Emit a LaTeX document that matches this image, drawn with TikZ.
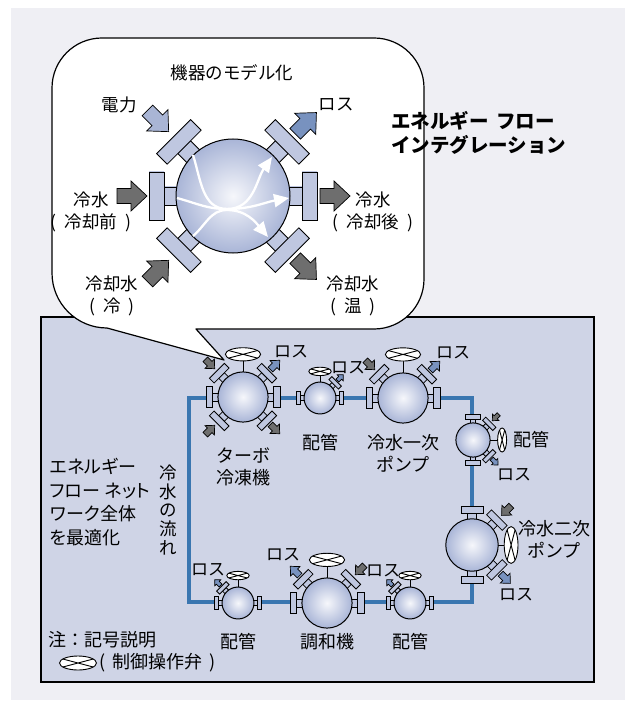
\documentclass[tikz,border=0pt]{standalone}
\usepackage{fontspec}
\setmainfont{Noto Sans CJK JP}
\newfontfamily\jpprop[RawFeature=+palt]{Noto Sans CJK JP}
\usetikzlibrary{arrows.meta}

\definecolor{bgc}{HTML}{EFEFF4}
\definecolor{boxc}{HTML}{CFD4E6}
\definecolor{pipec}{HTML}{3A76B0}
\definecolor{darkarr}{HTML}{6E6E6E}
\definecolor{elecarr}{HTML}{A9B5D5}
\definecolor{lossarr}{HTML}{7892BF}
\definecolor{flA}{HTML}{BFC7E0}
\definecolor{flB}{HTML}{F2F3F9}
\definecolor{sphIn}{HTML}{F6F7FB}
\definecolor{sphOut}{HTML}{A9B5D7}

% a flange (stub + plate) on the sphere, at angle #1, in model units
\newcommand{\flangeat}[1]{%
  \begin{scope}[rotate=#1]
    \draw[flangepart] (50,-9) rectangle (69,9);
    \draw[flangepart] (69,-24) rectangle (84,24);
  \end{scope}}
% block arrow leaving the sphere: angle, start distance, colour
\newcommand{\arrout}[3]{%
  \begin{scope}[rotate=#1]
    \draw[blockarr, fill=#3] (#2,-7.5) -- ({#2+14},-7.5) -- ({#2+14},-15) -- ({#2+30},0)
      -- ({#2+14},15) -- ({#2+14},7.5) -- (#2,7.5) -- cycle;
  \end{scope}}
% block arrow entering the sphere: angle, tip distance, colour
\newcommand{\arrin}[3]{%
  \begin{scope}[rotate=#1]
    \draw[blockarr, fill=#3] (#2,0) -- ({#2+16},-15) -- ({#2+16},-7.5) -- ({#2+30},-7.5)
      -- ({#2+30},7.5) -- ({#2+16},7.5) -- ({#2+16},15) -- cycle;
  \end{scope}}
% control valve: stem, then body with its cross
\newcommand{\valveat}[2]{%
  \begin{scope}[rotate=#1]
    \draw[valveline] (0,50) -- (0,{#2-15});
  \end{scope}}
\newcommand{\valvetop}[2]{%
  \begin{scope}[rotate=#1]
    \draw[valveline, fill=white] (0,#2) ellipse [x radius=40, y radius=15];
    \draw[valveline] (-32.8,{#2+8.6}) -- (32.8,{#2-8.6}) (-32.8,{#2-8.6}) -- (32.8,{#2+8.6});
  \end{scope}}
\newcommand{\ball}{\draw[sphere] (0,0) circle (57);}

\begin{document}
\begin{tikzpicture}[x=1pt, y=1pt,
  flangepart/.style={draw=black, line width=0.8pt, top color=flA, middle color=flB, bottom color=flA},
  blockarr/.style={draw=black, line width=0.7pt, line join=miter},
  valveline/.style={draw=black, line width=0.9pt},
  sphere/.style={draw=black, line width=1pt, inner color=sphIn, outer color=sphOut},
  flowline/.style={draw=white, line width=2.3pt, -{Triangle[length=15pt, width=13pt]}},
  pipe/.style={draw=pipec, line width=3.5pt, line join=miter},
  lbl/.style={inner sep=0pt, align=center, font=\fontsize{18}{22}\selectfont},
  mlbl/.style={inner sep=0pt, align=center, font=\fontsize{17.5}{22}\selectfont},
  losslbl/.style={inner sep=0pt, font=\fontsize{17}{19}\selectfont},
  bigtitle/.style={inner sep=0pt, align=left, anchor=west, font=\fontsize{19.5}{24}\selectfont\bfseries},
  bubble/.style={draw=black, line width=1.2pt, fill=white, line join=round}]
\useasboundingbox (0,0) rectangle (625,-708);

% page ground and network panel
\fill[bgc] (11,-8) rectangle (625,-700);
\draw[line width=1.8pt, fill=boxc] (41,-317) rectangle (594,-682);

% chilled-water loop
\coordinate (cTL) at (189,-398);
\coordinate (cTR) at (472,-398);
\coordinate (cBR) at (472,-602);
\coordinate (cBL) at (189,-602);
\draw[pipe] (cTL) -- (cTR) -- (cBR) -- (cBL) -- cycle;

% speech bubble with the device model
\coordinate (tip) at (224,-360);
\draw[bubble] (52,-88) -- (52,-273) arc[start angle=180, end angle=270, radius=55]
  -- (tip) -- (196,-329) -- (374,-329) arc[start angle=-90, end angle=0, radius=50]
  -- (424,-88) arc[start angle=0, end angle=90, radius=50]
  -- (102,-38) arc[start angle=90, end angle=180, radius=50] -- cycle;

\begin{scope}[shift={(233,-196)}]
  \foreach \a in {0,180,45,135,225,315} {\flangeat{\a}}
  \ball
  \draw[flowline] (-40,41) to[out=-72, in=180] (-6,-13) to[out=0, in=-125] (39,39);
  \draw[flowline] (-56,-2) to[out=-15, in=180] (-6,-13) to[out=0, in=190] (56,-2);
  \draw[flowline] (-40,-40) to[out=40, in=180] (-6,-14) to[out=0, in=130] (35,-41);
  \arrin{180}{86}{darkarr}
  \arrout{0}{87}{darkarr}
  \arrin{135}{91}{elecarr}
  \arrout{45}{88}{lossarr}
  \arrin{225}{91}{darkarr}
  \arrout{315}{88}{darkarr}
\end{scope}

\node[mlbl] (mtitle) at (232,-73) {機器のモデル化};
\node[mlbl] (mpower) at (119,-105) {電力};
\node[mlbl] (mloss) at (336,-105) {ロス};
\node[mlbl] (mcwin) at (91,-212) {冷水\\(\hspace{0.45em}冷却前\hspace{0.45em})};
\node[mlbl] (mcwout) at (373,-212) {冷水\\(\hspace{0.45em}冷却後\hspace{0.45em})};
\node[mlbl] (mcoolin) at (112,-296) {冷却水\\(\hspace{0.45em}冷\hspace{0.45em})};
\node[mlbl] (mcoolout) at (353,-296) {冷却水\\(\hspace{0.45em}温\hspace{0.45em})};
\node[bigtitle] (headline) at (391,-133) {エネルギー\hspace{0.4em}フロー\\インテグレーション};

% turbo chiller
\begin{scope}[shift={(243,-397)}, scale=0.44]
  \valveat{0}{97}
  \foreach \a in {0,180,45,135,225,315} {\flangeat{\a}}
  \ball
  \valvetop{0}{97}
  \arrin{135}{91}{darkarr}
  \arrout{45}{88}{lossarr}
  \arrin{225}{91}{darkarr}
  \arrout{315}{88}{darkarr}
\end{scope}
% pipe, top row
\begin{scope}[shift={(320,-398)}, scale=0.28]
  \valveat{0}{95}
  \foreach \a in {0,180,45} {\flangeat{\a}}
  \ball
  \valvetop{0}{95}
  \arrout{45}{88}{lossarr}
\end{scope}
% primary chilled-water pump
\begin{scope}[shift={(403,-398)}, scale=0.44]
  \valveat{0}{99}
  \foreach \a in {0,180,45,135} {\flangeat{\a}}
  \ball
  \valvetop{0}{99}
  \arrin{135}{91}{darkarr}
  \arrout{45}{88}{lossarr}
\end{scope}
% pipe, right column
\begin{scope}[shift={(473,-440)}, scale=0.3]
  \valveat{-90}{97}
  \foreach \a in {90,270,45,-45} {\flangeat{\a}}
  \ball
  \valvetop{-90}{97}
  \arrin{45}{91}{darkarr}
  \arrout{-45}{88}{lossarr}
\end{scope}
% secondary chilled-water pump
\begin{scope}[shift={(472,-545)}, scale=0.46]
  \valveat{-90}{85}
  \foreach \a in {90,270,45,-45} {\flangeat{\a}}
  \ball
  \valvetop{-90}{85}
  \arrin{45}{91}{darkarr}
  \arrout{-45}{88}{lossarr}
\end{scope}
% pipe, bottom left
\begin{scope}[shift={(238,-603)}, scale=0.28]
  \valveat{0}{98}
  \foreach \a in {0,180,135} {\flangeat{\a}}
  \ball
  \valvetop{0}{98}
  \arrout{135}{88}{lossarr}
\end{scope}
% air handling unit
\begin{scope}[shift={(327,-603)}, scale=0.44]
  \valveat{0}{98}
  \foreach \a in {0,180,45,135} {\flangeat{\a}}
  \ball
  \valvetop{0}{98}
  \arrout{135}{88}{lossarr}
  \arrin{45}{91}{darkarr}
\end{scope}
% pipe, bottom right
\begin{scope}[shift={(410,-603)}, scale=0.28]
  \valveat{0}{98}
  \foreach \a in {0,180,135} {\flangeat{\a}}
  \ball
  \valvetop{0}{98}
  \arrout{135}{88}{lossarr}
\end{scope}

% component labels
\node[lbl] (lturbo) at (243,-467) {ターボ\\冷凍機};
\node[lbl] (lpipe1) at (320,-443) {配管};
\node[lbl] (lpump1) at (403,-453) {冷水一次\\ポンプ};
\node[lbl] (lpipe2) at (531,-440) {配管};
\node[lbl] (lpump2) at (554,-539) {冷水二次\\ポンプ};
\node[lbl] (lpipe3) at (238,-642) {配管};
\node[lbl] (lahu) at (327,-642) {調和機};
\node[lbl] (lpipe4) at (410,-642) {配管};

\node[losslbl] (loss1) at (291,-352) {ロス};
\node[losslbl] (loss2) at (348,-368) {ロス};
\node[losslbl] (loss3) at (453,-353) {ロス};
\node[losslbl] (loss4) at (514,-475) {ロス};
\node[losslbl] (loss5) at (516,-595) {ロス};
\node[losslbl] (loss6) at (208,-570) {ロス};
\node[losslbl] (loss7) at (283,-555) {ロス};
\node[losslbl] (loss8) at (383,-571) {ロス};

% side notes
\node[lbl, align=left, anchor=west, font=\jpprop\fontsize{18}{23.5}\selectfont] (aim) at (50,-502)
  {エネルギー\\フロー\hspace{0.25em}ネット\\ワーク全体\\を最適化};
\node[lbl, font=\fontsize{17.5}{18.7}\selectfont] (flow) at (168,-510) {冷\\水\\の\\流\\れ};

% legend
\node[lbl, anchor=west] (note) at (48,-640) {注：記号説明};
\begin{scope}[shift={(78,-663)}]
  \draw[valveline, fill=white] (0,0) ellipse [x radius=18.5, y radius=7];
  \draw[valveline] (-15.2,4) -- (15.2,-4) (-15.2,-4) -- (15.2,4);
\end{scope}
\node[lbl, anchor=west] (valvenote) at (99,-663) {(\hspace{0.4em}制御操作弁\hspace{0.4em})};
\end{tikzpicture}
\end{document}
